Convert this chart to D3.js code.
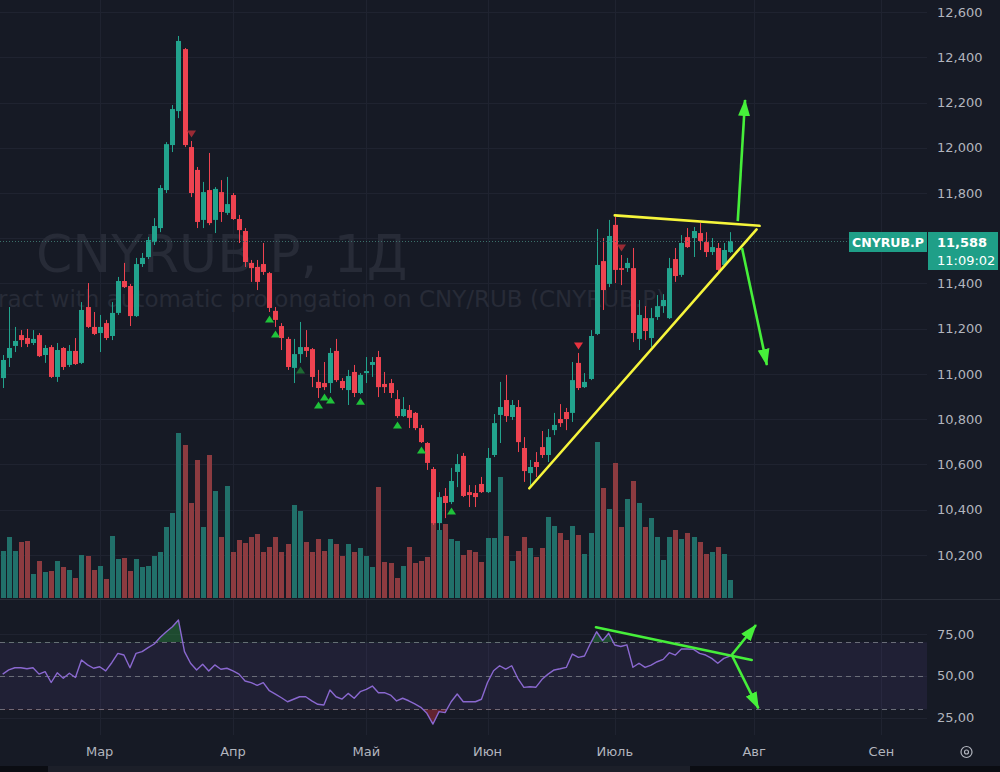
<!DOCTYPE html>
<html>
<head>
<meta charset="utf-8">
<script src="https://cdnjs.cloudflare.com/ajax/libs/d3/7.8.5/d3.min.js"></script>
<style>
  html, body { margin: 0; padding: 0; background: #161a25; }
  svg { display: block; }
  text { font-family: "DejaVu Sans", sans-serif; }
</style>
</head>
<body>
<div id="chart"></div>
<script>
// ---- data ------------------------------------------------------------
// daily candles [open, high, low, close], bar index 0..120
const candles = [
  [10.982,11.084,10.938,11.062],[11.071,11.296,11.031,11.115],[11.124,11.208,11.097,11.146],[11.172,11.194,11.119,11.150],
  [11.159,11.199,11.119,11.133],[11.137,11.194,11.128,11.155],[11.172,11.181,11.075,11.079],[11.084,11.128,11.049,11.115],
  [11.119,11.128,10.982,10.987],[10.987,11.137,10.965,11.106],[11.115,11.119,11.018,11.031],[11.040,11.128,11.031,11.102],
  [11.102,11.159,11.040,11.044],[11.049,11.318,11.044,11.283],[11.296,11.402,11.203,11.208],[11.208,11.274,11.172,11.177],
  [11.181,11.261,11.097,11.208],[11.225,11.239,11.150,11.159],[11.168,11.318,11.150,11.270],[11.270,11.429,11.261,11.411],
  [11.411,11.491,11.380,11.384],[11.389,11.398,11.212,11.256],[11.256,11.513,11.252,11.486],[11.486,11.535,11.473,11.513],
  [11.517,11.606,11.508,11.592],[11.583,11.689,11.570,11.654],[11.645,11.835,11.627,11.822],[11.813,12.025,11.800,12.016],
  [12.012,12.189,11.981,12.171],[12.162,12.494,12.131,12.472],[12.436,12.441,12.003,12.012],[12.003,12.030,11.782,11.800],
  [11.902,11.915,11.645,11.672],[11.681,11.849,11.645,11.804],[11.813,11.977,11.658,11.667],[11.681,11.826,11.623,11.818],
  [11.804,11.857,11.672,11.716],[11.712,11.871,11.703,11.751],[11.791,11.800,11.681,11.685],[11.685,11.703,11.579,11.636],
  [11.632,11.645,11.473,11.495],[11.491,11.504,11.407,11.468],[11.473,11.504,11.371,11.407],[11.486,11.579,11.438,11.451],
  [11.446,11.451,11.274,11.292],[11.279,11.296,11.208,11.239],[11.212,11.225,11.106,11.159],[11.155,11.164,11.018,11.031],
  [11.027,11.155,10.960,11.088],[11.088,11.230,11.049,11.119],[11.119,11.194,11.075,11.102],[11.110,11.115,10.942,10.987],
  [10.965,11.018,10.894,10.938],[10.960,11.053,10.929,10.942],[10.960,11.115,10.916,11.093],[11.102,11.155,10.965,10.973],
  [10.969,10.982,10.929,10.938],[10.929,11.018,10.863,10.991],[11.009,11.040,10.898,10.916],[10.916,11.004,10.911,10.996],
  [11.004,11.075,10.960,11.013],[11.040,11.075,10.987,11.053],[11.075,11.102,10.898,10.942],[10.956,11.009,10.916,10.942],
  [10.960,10.978,10.894,10.916],[10.889,10.929,10.806,10.814],[10.814,10.898,10.810,10.845],[10.841,10.863,10.761,10.806],
  [10.828,10.832,10.752,10.761],[10.761,10.775,10.695,10.699],[10.695,10.699,10.576,10.607],[10.580,10.589,10.333,10.341],
  [10.341,10.478,10.310,10.456],[10.461,10.496,10.363,10.430],[10.434,10.585,10.425,10.527],[10.567,10.646,10.500,10.602],
  [10.638,10.651,10.456,10.461],[10.478,10.509,10.412,10.465],[10.474,10.509,10.412,10.456],[10.514,10.545,10.474,10.478],
  [10.478,10.673,10.474,10.629],[10.642,10.823,10.633,10.783],[10.819,10.965,10.695,10.854],[10.885,10.996,10.788,10.814],
  [10.810,10.885,10.797,10.863],[10.854,10.885,10.655,10.699],[10.673,10.721,10.523,10.571],[10.562,10.620,10.500,10.589],
  [10.611,10.655,10.545,10.589],[10.677,10.748,10.629,10.642],[10.642,10.757,10.611,10.721],[10.752,10.828,10.730,10.775],
  [10.801,10.867,10.766,10.783],[10.832,10.850,10.752,10.801],[10.828,11.053,10.788,10.973],[11.049,11.093,10.929,10.938],
  [10.942,11.004,10.938,10.965],[10.978,11.194,10.973,11.168],[11.177,11.641,11.172,11.482],[11.499,11.601,11.283,11.371],
  [11.398,11.681,11.384,11.610],[11.659,11.694,11.402,11.460],[11.468,11.526,11.393,11.460],[11.468,11.513,11.451,11.491],
  [11.468,11.557,11.141,11.181],[11.155,11.327,11.106,11.261],[11.247,11.300,11.150,11.190],[11.159,11.292,11.119,11.247],
  [11.252,11.349,11.239,11.300],[11.300,11.353,11.270,11.327],[11.247,11.513,11.243,11.468],[11.508,11.557,11.407,11.433],
  [11.438,11.614,11.429,11.579],[11.605,11.645,11.557,11.561],[11.601,11.650,11.517,11.632],[11.623,11.667,11.548,11.588],
  [11.583,11.627,11.517,11.539],[11.539,11.601,11.526,11.561],[11.557,11.579,11.446,11.460],[11.482,11.579,11.473,11.548],
  [11.539,11.627,11.535,11.588]
];

// volume per bar (thousands)
const volumes = [
  47,61,47,56,57,24,37,26,27,37, 31,28,20,43,42,28,32,19,62,39,
  40,27,39,31,32,42,46,71,85,165, 153,95,138,71,143,107,61,112,46,58,
  55,61,64,46,51,61,46,54,93,87, 56,46,59,47,59,54,42,54,46,50,
  42,31,111,36,35,20,32,51,35,37, 41,75,68,74,59,57,43,48,46,36,
  60,60,121,62,37,47,61,50,41,50, 81,72,65,58,72,63,44,65,156,110,
  89,135,71,99,117,95,71,80,61,38, 61,68,59,65,61,56,44,46,51,44,
  18
];

// RSI(14) per bar
const rsi = [
  51,53.5,54.8,54.8,54.2,54.8,51,52.5,46,51.8,
  48.5,51.5,49,59.4,56.5,54.5,55.4,52.9,57.8,63.4,
  62.4,54.8,63.4,64.4,66.8,69,73,76.3,79.3,83.3,
  64.4,57.5,53.5,56.9,52.9,56.5,53.9,54.5,52.9,51,
  46.9,45.9,44.3,45.9,41.1,39.1,36.9,34.5,36,37.5,
  37.5,35,33,32.6,41.5,37.5,36.1,39.5,36.6,40.5,
  41.9,43.9,39.9,39.9,38.5,35,36.6,35.1,33.2,31.2,
  27.6,21.2,28.6,28,34.5,39.1,34.5,34.5,34.5,36,
  46,53,56,54,56,48.5,43.1,43.5,43.2,47.9,
  51,53.5,54.2,55,63,61,61.8,69.4,76.3,71,
  75.4,68.4,67.5,68.5,55.1,57.5,55,56.4,58.4,59.8,
  63.8,62.4,66,66,65.8,63.4,62.4,60.4,57.5,60.4,61.8
];

// signal markers (bar indices)
const buySignals = [44, 45, 52, 53, 54, 59, 65, 69, 74];
const weakBuySignals = [49];
const sellSignals = [95];
const weakSellSignals = [31, 102];

// axes
const priceTicks = [10.2, 10.4, 10.6, 10.8, 11.0, 11.2, 11.4, 11.6, 11.8, 12.0, 12.2, 12.4, 12.6];
const priceLabelTicks = [10.2, 10.4, 10.6, 10.8, 11.0, 11.2, 11.4, 11.8, 12.0, 12.2, 12.4, 12.6]; // 11,600 sits under the price tag
const rsiTicks = [75, 50, 25];
const rsiLevels = [70, 50, 30];
const monthLabels = ['Мар', 'Апр', 'Май', 'Июн', 'Июль', 'Авг', 'Сен'];
const monthIndex = [16, 38, 60, 80, 101, 124, 145];

// hand drawn annotations [bar1, value1, bar2, value2]
const yellowLines = [[101, 11.701, 124.9, 11.655], [86.9, 10.495, 124.4, 11.639]];
const priceArrows = [[121.3, 11.676, 122.5, 12.211], [122, 11.557, 126.1, 11.040]];
const rsiTrend = [[97.9, 79, 123.6, 59.4]];
const rsiArrows = [[120.3, 62.4, 124.3, 80.3], [120.3, 62.4, 124.7, 30.6]];

const symbolName = 'CNYRUB.P';
const lastTime = '11:09:02';

// ---- layout --------------------------------------------------------------
const W = 1000, H = 772;
const PLOT_R = 927;
const VOL_BASE = 598;
const TIME_TOP = 735;
const BG = '#161a25';
const UP = '#22a38d', DOWN = '#ee4350';
const UP_VOL = '#21706a', DOWN_VOL = '#8c3b40';
const GRID = '#1f2330';
const TEXT = '#b2b5be';
const LIME = '#46ef3a';
const YELLOW = '#f6f53b';

const ru = d3.formatLocale({ decimal: ',', thousands: '\u00a0', grouping: [3], currency: ['', ''] });
const fmtPrice = ru.format('.3f');
const fmtRsi = ru.format('.2f');

const x = d3.scaleLinear().domain([0, 145]).range([2.7, 881.4]);
const y = d3.scaleLinear().domain([10.2, 12.6]).range([555, 12]);
const yVol = d3.scaleLinear().domain([0, 170]).range([VOL_BASE, VOL_BASE - 170]);
const yRsi = d3.scaleLinear().domain([30, 70]).range([709.3, 642.3]);

const svg = d3.select('#chart').append('svg')
    .attr('width', W)
    .attr('height', H);

svg.append('rect').attr('width', W).attr('height', H).attr('fill', BG);

// bottom toolbar strip
svg.append('rect').attr('x', 0).attr('y', 766).attr('width', W).attr('height', 6).attr('fill', '#0b0d13');
svg.append('rect').attr('x', 48).attr('y', 766).attr('width', 642).attr('height', 6).attr('fill', '#1c1f29');

// ---- grid ------------------------------------------------------------------
const grid = svg.append('g');
grid.selectAll('line.h')
  .data(priceTicks)
  .join('line')
    .attr('class', 'h')
    .attr('x1', 0).attr('x2', PLOT_R)
    .attr('y1', d => Math.round(y(d)) + 0.5)
    .attr('y2', d => Math.round(y(d)) + 0.5)
    .attr('stroke', GRID);

grid.selectAll('line.r')
  .data(rsiTicks)
  .join('line')
    .attr('class', 'r')
    .attr('x1', 0).attr('x2', PLOT_R)
    .attr('y1', d => Math.round(yRsi(d)) + 0.5)
    .attr('y2', d => Math.round(yRsi(d)) + 0.5)
    .attr('stroke', GRID);

grid.selectAll('line.v')
  .data(monthIndex)
  .join('line')
    .attr('class', 'v')
    .attr('x1', d => Math.round(x(d)) + 0.5)
    .attr('x2', d => Math.round(x(d)) + 0.5)
    .attr('y1', 0).attr('y2', TIME_TOP)
    .attr('stroke', GRID);

// pane separator
svg.append('line')
  .attr('x1', 0).attr('x2', W)
  .attr('y1', 599.5).attr('y2', 599.5)
  .attr('stroke', '#2a2e39');

// ---- watermark -------------------------------------------------------------
svg.append('text')
  .attr('x', 36).attr('y', 272)
  .attr('font-family', '"Open Sans", sans-serif')
  .attr('font-size', 52)
  .attr('fill', '#272b37')
  .text(symbolName + ', 1Д');

svg.append('text')
  .attr('x', 665).attr('y', 307)
  .attr('text-anchor', 'end')
  .attr('font-family', '"Open Sans", sans-serif')
  .attr('font-size', 23)
  .attr('fill', '#272b37')
  .text('Contract with automatic prolongation on CNY/RUB (' + symbolName + ')');

// ---- volume ---------------------------------------------------------------
const isUp = i => candles[i][3] >= candles[i][0];

svg.append('g').selectAll('rect')
  .data(volumes)
  .join('rect')
    .attr('x', (d, i) => Math.round(x(i)) - 2)
    .attr('width', 5)
    .attr('y', d => yVol(d))
    .attr('height', d => VOL_BASE - yVol(d))
    .attr('fill', (d, i) => isUp(i) ? UP_VOL : DOWN_VOL);

// ---- candles ---------------------------------------------------------------
const gc = svg.append('g');
const bar = gc.selectAll('g')
  .data(candles)
  .join('g')
    .attr('fill', (d, i) => isUp(i) ? UP : DOWN)
    .attr('stroke', (d, i) => isUp(i) ? UP : DOWN);

bar.append('line')
  .attr('x1', (d, i) => Math.round(x(i)) + 0.5)
  .attr('x2', (d, i) => Math.round(x(i)) + 0.5)
  .attr('y1', d => y(d[1]))
  .attr('y2', d => y(d[2]))
  .attr('stroke-width', 1);

bar.append('rect')
  .attr('stroke', 'none')
  .attr('x', (d, i) => Math.round(x(i)) - 2)
  .attr('width', 5)
  .attr('y', d => y(Math.max(d[0], d[3])))
  .attr('height', d => Math.max(1, Math.abs(y(d[0]) - y(d[3]))));

// ---- signal triangles --------------------------------------------------------
function upTri(i) {
  const cx = Math.round(x(i)) + 0.5, t = y(candles[i][2]) + 3.5;
  return `M${cx},${t}L${cx + 4.5},${t + 7}L${cx - 4.5},${t + 7}Z`;
}
function downTri(i) {
  const cx = Math.round(x(i)) + 0.5, b = y(candles[i][1]) - 3.5;
  return `M${cx},${b}L${cx + 4.5},${b - 7}L${cx - 4.5},${b - 7}Z`;
}
const gm = svg.append('g');
gm.selectAll('path.buy').data(buySignals).join('path').attr('d', upTri).attr('fill', '#1fc23a');
gm.selectAll('path.wbuy').data(weakBuySignals).join('path').attr('d', upTri).attr('fill', '#1d6a33');
gm.selectAll('path.sell').data(sellSignals).join('path').attr('d', downTri).attr('fill', '#e8323f');
gm.selectAll('path.wsell').data(weakSellSignals).join('path').attr('d', downTri).attr('fill', '#9a2a34');

// ---- last price line -----------------------------------------------------------
const lastClose = candles[candles.length - 1][3];
svg.append('line')
  .attr('x1', 0).attr('x2', 849)
  .attr('y1', Math.round(y(lastClose)) + 0.5)
  .attr('y2', Math.round(y(lastClose)) + 0.5)
  .attr('stroke', '#3b6f6a')
  .attr('stroke-dasharray', '1,2');

// ---- RSI pane ------------------------------------------------------------------
svg.append('rect')
  .attr('x', 0).attr('width', PLOT_R)
  .attr('y', yRsi(70)).attr('height', yRsi(30) - yRsi(70))
  .attr('fill', 'rgba(126,87,194,0.1)');

svg.append('g').selectAll('line')
  .data(rsiLevels)
  .join('line')
    .attr('x1', 0).attr('x2', PLOT_R)
    .attr('y1', d => Math.round(yRsi(d)) + 0.5)
    .attr('y2', d => Math.round(yRsi(d)) + 0.5)
    .attr('stroke', '#6a6d78')
    .attr('stroke-dasharray', '5,4');

const defs = svg.append('defs');
defs.append('clipPath').attr('id', 'ob')
  .append('rect').attr('x', 0).attr('y', 600).attr('width', PLOT_R).attr('height', yRsi(70) - 600);
defs.append('clipPath').attr('id', 'os')
  .append('rect').attr('x', 0).attr('y', yRsi(30)).attr('width', PLOT_R).attr('height', TIME_TOP - yRsi(30));

svg.append('path')
  .datum(rsi)
  .attr('clip-path', 'url(#ob)')
  .attr('fill', 'rgba(46,170,70,0.35)')
  .attr('d', d3.area().x((d, i) => x(i)).y0(yRsi(70)).y1(d => yRsi(d)));

svg.append('path')
  .datum(rsi)
  .attr('clip-path', 'url(#os)')
  .attr('fill', 'rgba(242,54,69,0.35)')
  .attr('d', d3.area().x((d, i) => x(i)).y0(yRsi(30)).y1(d => yRsi(d)));

svg.append('path')
  .datum(rsi)
  .attr('fill', 'none')
  .attr('stroke', '#8a68d0')
  .attr('stroke-width', 1.4)
  .attr('stroke-linejoin', 'round')
  .attr('d', d3.line().x((d, i) => x(i)).y(d => yRsi(d)));

// ---- annotations ---------------------------------------------------------------
defs.append('marker')
  .attr('id', 'head')
  .attr('viewBox', '0 0 17 12')
  .attr('refX', 16).attr('refY', 6)
  .attr('markerWidth', 17).attr('markerHeight', 12)
  .attr('markerUnits', 'userSpaceOnUse')
  .attr('orient', 'auto')
  .append('path')
    .attr('d', 'M0,0L17,6L0,12Z')
    .attr('fill', LIME);

svg.append('g').selectAll('line')
  .data(yellowLines)
  .join('line')
    .attr('x1', d => x(d[0])).attr('y1', d => y(d[1]))
    .attr('x2', d => x(d[2])).attr('y2', d => y(d[3]))
    .attr('stroke', YELLOW)
    .attr('stroke-width', 2.6)
    .attr('stroke-linecap', 'round');

svg.append('g').selectAll('line')
  .data(priceArrows)
  .join('line')
    .attr('x1', d => x(d[0])).attr('y1', d => y(d[1]))
    .attr('x2', d => x(d[2])).attr('y2', d => y(d[3]))
    .attr('stroke', LIME)
    .attr('stroke-width', 2.6)
    .attr('marker-end', 'url(#head)');

svg.append('g').selectAll('line')
  .data(rsiTrend)
  .join('line')
    .attr('x1', d => x(d[0])).attr('y1', d => yRsi(d[1]))
    .attr('x2', d => x(d[2])).attr('y2', d => yRsi(d[3]))
    .attr('stroke', LIME)
    .attr('stroke-width', 2.6)
    .attr('stroke-linecap', 'round');

svg.append('g').selectAll('line')
  .data(rsiArrows)
  .join('line')
    .attr('x1', d => x(d[0])).attr('y1', d => yRsi(d[1]))
    .attr('x2', d => x(d[2])).attr('y2', d => yRsi(d[3]))
    .attr('stroke', LIME)
    .attr('stroke-width', 2.6)
    .attr('marker-end', 'url(#head)');

// ---- axes ----------------------------------------------------------------------
const priceAxis = svg.append('g')
  .attr('transform', `translate(930,0)`)
  .call(d3.axisRight(y).tickValues(priceLabelTicks).tickFormat(fmtPrice).tickSize(0).tickPadding(7));
const rsiAxis = svg.append('g')
  .attr('transform', `translate(930,0)`)
  .call(d3.axisRight(yRsi).tickValues(rsiTicks).tickFormat(fmtRsi).tickSize(0).tickPadding(7));
[priceAxis, rsiAxis].forEach(g => {
  g.select('.domain').remove();
  g.attr('font-family', '"DejaVu Sans", sans-serif').attr('font-size', 13);
  g.selectAll('text').attr('fill', TEXT);
});

svg.append('g').selectAll('text')
  .data(monthLabels)
  .join('text')
    .attr('x', (d, i) => x(monthIndex[i]))
    .attr('y', 756)
    .attr('text-anchor', 'middle')
    .attr('font-size', 13)
    .attr('fill', TEXT)
    .text(d => d);

// settings icon
svg.append('circle').attr('cx', 966.5).attr('cy', 752).attr('r', 5.5)
  .attr('fill', 'none').attr('stroke', TEXT).attr('stroke-width', 1.2);
svg.append('circle').attr('cx', 966.5).attr('cy', 752).attr('r', 2)
  .attr('fill', 'none').attr('stroke', TEXT).attr('stroke-width', 1.2);

// ---- last price labels -----------------------------------------------------------
const LABEL = '#1f9f88';
svg.append('rect').attr('x', 849).attr('y', 232).attr('width', 78).attr('height', 20).attr('fill', LABEL);
svg.append('text')
  .attr('x', 888).attr('y', 247)
  .attr('text-anchor', 'middle')
  .attr('font-size', 12.5).attr('font-weight', 'bold')
  .attr('fill', '#ffffff')
  .text(symbolName);

svg.append('rect').attr('x', 928).attr('y', 232).attr('width', 70).attr('height', 38).attr('fill', LABEL);
svg.append('text')
  .attr('x', 937).attr('y', 247)
  .attr('font-size', 13).attr('font-weight', 'bold')
  .attr('fill', '#ffffff')
  .text(fmtPrice(lastClose));
svg.append('text')
  .attr('x', 937).attr('y', 264.5)
  .attr('font-size', 13)
  .attr('fill', '#ffffff')
  .text(lastTime);
</script>
</body>
</html>
